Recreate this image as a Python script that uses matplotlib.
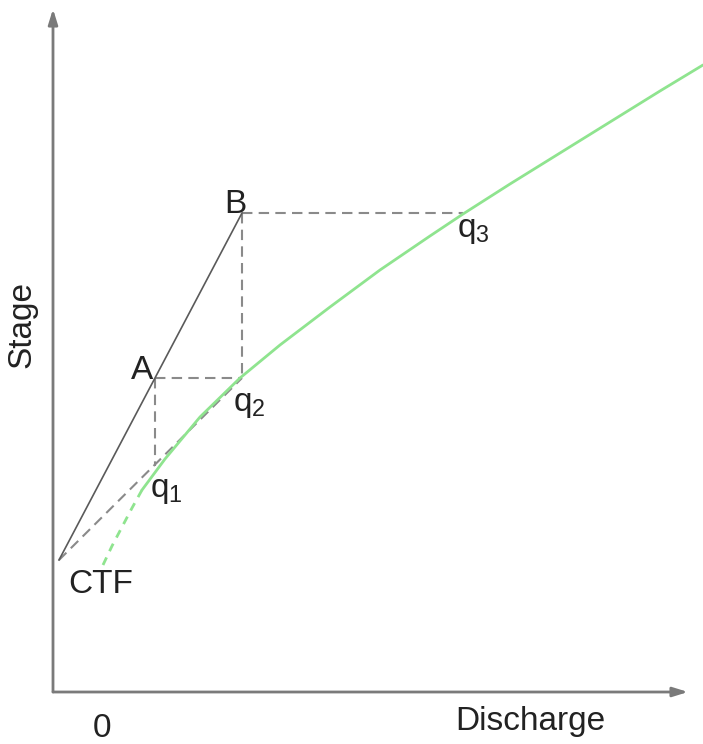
import matplotlib
matplotlib.use("Agg")
import matplotlib.pyplot as plt

plt.rcParams['font.family'] = ['Liberation Sans', 'DejaVu Sans']

# rating curve (discharge, stage) in arbitrary units
curve_q = [0.89, 1.12, 1.47, 1.87, 2.27, 2.77, 3.27, 3.77, 4.10, 4.57, 5.07, 5.57, 6.07, 6.50]
curve_h = [2.02, 2.33, 2.75, 3.14, 3.47, 3.85, 4.22, 4.56, 4.78, 5.08, 5.39, 5.70, 6.01, 6.27]
# extrapolated (dotted) low part
ext_q = [0.50, 0.59, 0.69, 0.79, 0.89]
ext_h = [1.27, 1.46, 1.65, 1.84, 2.02]

# key points
ctf = (0.06, 1.32)
A = (1.02, 3.14)
B = (1.89, 4.79)
q1 = (1.02, 2.26)
q2 = (1.89, 3.14)
q3 = (4.10, 4.79)

fig = plt.figure(figsize=(7.03, 7.44), dpi=100)
ax = fig.add_axes([0, 0, 1, 1])
ax.set_xlim(-0.53, 6.50)
ax.set_ylim(-0.52, 6.92)
ax.axis('off')

axc = '#7a7a7a'
# axes with arrows
ax.annotate('', xy=(0, 6.83), xytext=(0, 0),
            arrowprops=dict(arrowstyle='-|>,head_length=0.9,head_width=0.28', color=axc, lw=2, shrinkA=0, shrinkB=0))
ax.annotate('', xy=(6.35, 0), xytext=(0, 0),
            arrowprops=dict(arrowstyle='-|>,head_length=0.9,head_width=0.28', color=axc, lw=2, shrinkA=0, shrinkB=0))

green = '#8fe48f'
ax.plot(curve_q, curve_h, color=green, lw=2, solid_capstyle='round', solid_joinstyle='round', zorder=3)
ax.plot(ext_q, ext_h, color=green, lw=2, ls=(0, (3, 2.5)), zorder=3)

dash = '#8a8a8a'
dls = (0, (5, 3))
ax.plot([ctf[0], q2[0]], [ctf[1], q2[1]], color=dash, lw=1.5, ls=dls, zorder=2)
ax.plot([A[0], q2[0]], [A[1], q2[1]], color=dash, lw=1.5, ls=dls, zorder=2)
ax.plot([A[0], q1[0]], [A[1], q1[1]], color=dash, lw=1.5, ls=dls, zorder=2)
ax.plot([B[0], q3[0]], [B[1], q3[1]], color=dash, lw=1.5, ls=dls, zorder=2)
ax.plot([B[0], q2[0]], [B[1], q2[1]], color=dash, lw=1.5, ls=dls, zorder=2)
ax.plot([ctf[0], B[0]], [ctf[1], B[1]], color='#5a5a5a', lw=1.2, zorder=4)

tc = '#222222'
fs = 24
ax.text(A[0] - 0.02, A[1] - 0.01, 'A', ha='right', va='baseline', fontsize=fs, color=tc)
ax.text(B[0] - 0.07, B[1], 'B', ha='center', va='baseline', fontsize=fs, color=tc)
ax.text(ctf[0] + 0.09, ctf[1] - 0.33, 'CTF', ha='left', va='baseline', fontsize=fs, color=tc)
ax.text(q1[0] - 0.05, q1[1] - 0.31, r'$\mathregular{q_1}$', ha='left', va='baseline', fontsize=fs, color=tc)
ax.text(q2[0] - 0.09, q2[1] - 0.33, r'$\mathregular{q_2}$', ha='left', va='baseline', fontsize=fs, color=tc)
ax.text(q3[0] - 0.06, q3[1] - 0.24, r'$\mathregular{q_3}$', ha='left', va='baseline', fontsize=fs, color=tc)

ax.text(-0.31, 3.67, 'Stage', rotation=90, ha='center', va='center', fontsize=fs, color=tc)
ax.text(4.77, -0.38, 'Discharge', ha='center', va='baseline', fontsize=fs, color=tc)
ax.text(0.49, -0.45, '0', ha='center', va='baseline', fontsize=fs, color=tc)

fig.savefig('out.png', dpi=100)
